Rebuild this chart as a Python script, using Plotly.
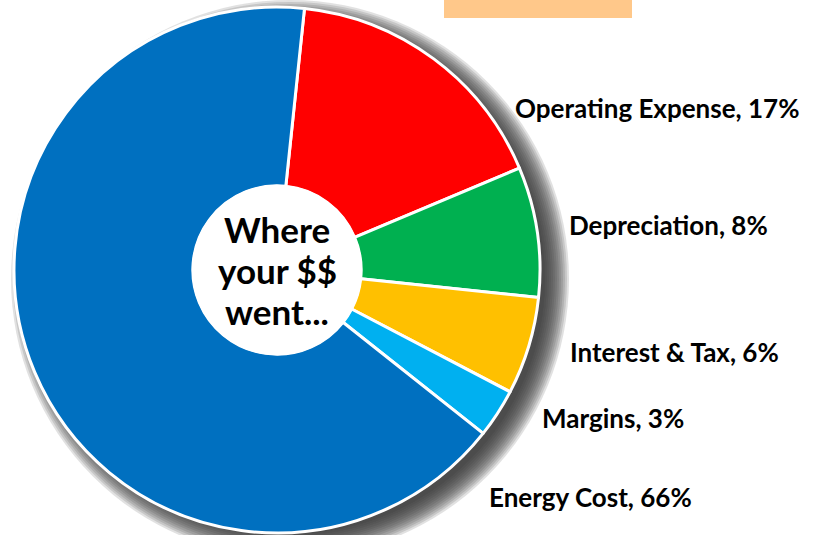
import plotly.graph_objects as go

categories = ["Operating Expense", "Depreciation", "Interest & Tax", "Margins", "Energy Cost"]
values = [17, 8, 6, 3, 66]
colors = ["#FF0000", "#00B050", "#FFC000", "#00B0F0", "#0070C0"]
label_texts = [f"{c}, {v}%" for c, v in zip(categories, values)]
center_lines = ["Where", "your $$", "went..."]

W, H = 818, 535
cx, cy, R = 277, 270, 263  # pie centre and radius in pixels (layout)
HOLE = 0.32

def px(x):
    return x / W

def py(y):
    return 1 - y / H

fig = go.Figure()
fig.add_trace(go.Pie(
    labels=categories,
    values=values,
    sort=False,
    direction="clockwise",
    rotation=6,
    hole=HOLE,
    marker=dict(colors=colors, line=dict(color="white", width=3)),
    textinfo="none",
    hoverinfo="label+percent",
    domain=dict(x=[px(cx - R), px(cx + R)], y=[py(cy + R), py(cy - R)]),
    showlegend=False,
))

shapes = []
# soft drop shadow built from layered translucent discs
sx, sy = cx + 13, cy + 9
for k in range(-8, 18, 2):
    r = R + k
    shapes.append(dict(type="circle", xref="paper", yref="paper", layer="below",
                       x0=px(sx - r), x1=px(sx + r), y0=py(sy + r), y1=py(sy - r),
                       fillcolor="rgba(55,55,55,0.15)", line=dict(width=0)))
# white centre disc
hr = R * HOLE + 1
shapes.append(dict(type="circle", xref="paper", yref="paper", layer="above",
                   x0=px(cx - hr), x1=px(cx + hr), y0=py(cy + hr), y1=py(cy - hr),
                   fillcolor="white", line=dict(width=0)))
# peach box at top
shapes.append(dict(type="rect", xref="paper", yref="paper", layer="above",
                   x0=px(444), x1=px(632), y0=py(18), y1=1.02,
                   fillcolor="#FFC88A", line=dict(width=0)))

label_pos = [(513, 108), (567, 225), (568, 352), (540, 418), (487, 497)]
annotations = []
for t, (x, y) in zip(label_texts, label_pos):
    annotations.append(dict(text=t, x=px(x), y=py(y), xref="paper", yref="paper",
                            xanchor="left", yanchor="middle", showarrow=False,
                            font=dict(family="Lato", size=26, color="black", weight="bold")))
for t, y in zip(center_lines, [229, 270, 311]):
    annotations.append(dict(text=t, x=px(cx), y=py(y), xref="paper", yref="paper",
                            xanchor="center", yanchor="middle", showarrow=False,
                            font=dict(family="Lato", size=35, color="black", weight="bold")))

fig.update_layout(
    width=W, height=H,
    margin=dict(l=0, r=0, t=0, b=0),
    paper_bgcolor="white",
    plot_bgcolor="white",
    shapes=shapes,
    annotations=annotations,
)
fig.write_html("out.html", config={"displayModeBar": False},
               post_script="document.body.style.margin='0';")
